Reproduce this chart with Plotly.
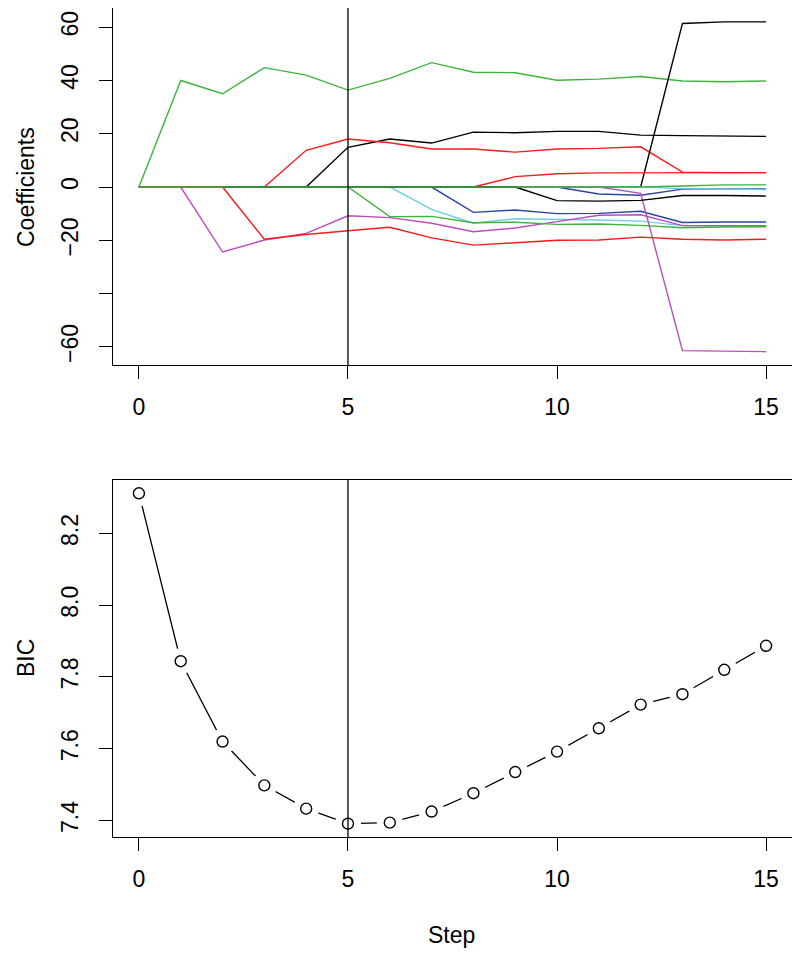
import plotly.graph_objects as go

steps = list(range(16))

# Coefficient paths (one list per variable, values at steps 0..15)
coef_black1 = [0, 0, 0, 0, 0, 14.9, 18.0, 16.5, 20.6, 20.4, 20.9, 20.9, 19.5, 19.3, 19.1, 19.0]
coef_red1 = [0, 0, 0, 0, 13.8, 18.0, 16.6, 14.3, 14.3, 13.1, 14.3, 14.5, 15.1, 5.6, 5.4, 5.4]
coef_green1 = [0, 40.0, 35.0, 44.8, 42.0, 36.4, 40.8, 46.7, 43.1, 42.9, 40.1, 40.5, 41.5, 39.8, 39.5, 39.8]
coef_blue1 = [0, 0, 0, 0, 0, 0, 0, 0, -9.5, -8.6, -10.0, -9.9, -9.1, -13.3, -13.1, -13.1]
coef_cyan1 = [0, 0, 0, 0, 0, 0, 0, -8.4, -13.6, -11.9, -12.1, -12.4, -12.8, -14.5, -14.6, -14.6]
coef_magenta1 = [0, 0, -24.4, -19.9, -17.4, -10.8, -11.5, -13.6, -16.8, -15.4, -13.0, -10.6, -10.4, -14.5, -14.5, -14.5]
coef_black2 = [0, 0, 0, 0, 0, 0, 0, 0, 0, 0, 0, 0, 0, 61.4, 62.0, 62.0]
coef_red2 = [0, 0, 0, 0, 0, 0, 0, 0, 0, 3.9, 5.0, 5.3, 5.3, 5.4, 5.4, 5.4]
coef_green2 = [0, 0, 0, 0, 0, 0, -11.1, -11.0, -13.4, -13.2, -14.0, -13.9, -14.4, -15.3, -15.0, -14.9]
coef_blue2 = [0, 0, 0, 0, 0, 0, 0, 0, 0, 0, 0, -2.6, -3.1, -0.8, -0.7, -0.7]
coef_cyan2 = [0, 0, 0, 0, 0, 0, 0, 0, 0, 0, 0, 0, 0, -0.6, -0.9, -1.0]
coef_magenta2 = [0, 0, 0, 0, 0, 0, 0, 0, 0, 0, 0, 0, -2.4, -61.4, -61.6, -61.8]
coef_black3 = [0, 0, 0, 0, 0, 0, 0, 0, 0, 0, -5.1, -5.3, -5.0, -3.2, -3.2, -3.4]
coef_red3 = [0, 0, 0, -19.6, -17.8, -16.4, -15.1, -19.1, -21.8, -20.9, -20.0, -19.9, -18.8, -19.6, -19.9, -19.6]
coef_green3 = [0, 0, 0, 0, 0, 0, 0, 0, 0, 0, 0, 0, 0, 0.4, 0.8, 0.8]

bic = [8.312, 7.844, 7.620, 7.498, 7.433, 7.391, 7.394, 7.425, 7.476, 7.535,
       7.592, 7.657, 7.723, 7.752, 7.820, 7.887]

chosen_step = 5

coef_ticks = [-60, -40, -20, 0, 20, 40, 60]
coef_ticktext = ["\u221260", "", "\u221220", "0", "20", "40", "60"]
bic_ticks = [7.4, 7.6, 7.8, 8.0, 8.2]
bic_ticktext = ["7.4", "7.6", "7.8", "8.0", "8.2"]
x_ticks = [0, 5, 10, 15]

BLACK = "#000000"
RED = "#FF1A1A"
GREEN = "#3DB53D"
BLUE = "#2A44A8"
CYAN = "#6CCFE8"
MAGENTA = "#BB4DBB"

series = [
    (coef_black1, BLACK), (coef_red1, RED), (coef_green1, GREEN),
    (coef_blue1, BLUE), (coef_cyan1, CYAN), (coef_magenta1, MAGENTA),
    (coef_black2, BLACK), (coef_red2, RED), (coef_green2, GREEN),
    (coef_blue2, BLUE), (coef_cyan2, CYAN), (coef_magenta2, MAGENTA),
    (coef_black3, BLACK), (coef_red3, RED), (coef_green3, GREEN),
]

# page has an 8px body margin; figure is sized so screen coords match
OFF = 8
W, H = 800 - OFF, 953 - OFF
FONT = "Liberation Sans, Arial, Helvetica, sans-serif"
FS = 23


def px(xs):
    return (xs - OFF) / W


def py(ys):
    return 1 - (ys - OFF) / H


fig = go.Figure()

for vals, col in series:
    fig.add_trace(go.Scatter(x=steps, y=vals, mode="lines",
                             line=dict(color=col, width=1.4),
                             xaxis="x", yaxis="y", showlegend=False,
                             hoverinfo="skip"))

# BIC: line, white masks for gaps, then open circles (R type="b")
fig.add_trace(go.Scatter(x=steps, y=bic, mode="lines",
                         line=dict(color="black", width=1.3),
                         xaxis="x2", yaxis="y2", showlegend=False))
fig.add_trace(go.Scatter(x=steps, y=bic, mode="markers",
                         marker=dict(symbol="circle", size=26, color="white",
                                     line=dict(width=0)),
                         xaxis="x2", yaxis="y2", showlegend=False))
fig.add_trace(go.Scatter(x=steps, y=bic, mode="markers",
                         marker=dict(symbol="circle-open", size=11, color="black",
                                     line=dict(width=1.4, color="black")),
                         xaxis="x2", yaxis="y2", showlegend=False))

xdom = [px(113), px(792)]
top_dom = [py(365), py(8)]
bot_dom = [py(837), py(480)]

axis_common = dict(showline=True, linecolor="black", linewidth=1.3, mirror=True,
                   ticks="outside", ticklen=13, tickwidth=1.3, tickcolor="black",
                   showgrid=False, zeroline=False,
                   tickfont=dict(family=FONT, size=FS, color="black"))

fig.update_layout(
    width=W, height=H,
    margin=dict(l=0, r=0, t=0, b=0),
    paper_bgcolor="white", plot_bgcolor="white",
    showlegend=False,
    xaxis=dict(domain=xdom, anchor="y", range=[-0.62, 15.62],
               tickvals=x_ticks, ticklabelstandoff=8, **axis_common),
    yaxis=dict(domain=top_dom, anchor="x", range=[-66.8, 67.2],
               tickvals=coef_ticks, ticktext=coef_ticktext, tickangle=-90,
               ticklabelstandoff=12, **axis_common),
    xaxis2=dict(domain=xdom, anchor="y2", range=[-0.62, 15.62],
                tickvals=x_ticks, ticklabelstandoff=8, **axis_common),
    yaxis2=dict(domain=bot_dom, anchor="x2", range=[7.354, 8.349],
                tickvals=bic_ticks, ticktext=bic_ticktext, tickangle=-90,
                ticklabelstandoff=12, **axis_common),
    shapes=[
        dict(type="line", xref="x", yref="y domain", x0=chosen_step, x1=chosen_step,
             y0=0, y1=1, line=dict(color="black", width=1.3), layer="above"),
        dict(type="line", xref="x2", yref="y2 domain", x0=chosen_step, x1=chosen_step,
             y0=0, y1=1, line=dict(color="black", width=1.3), layer="above"),
    ],
    annotations=[
        dict(text="Coefficients", xref="paper", yref="paper", x=px(26), y=py(187),
             textangle=-90, showarrow=False, xanchor="center", yanchor="middle",
             font=dict(family=FONT, size=FS, color="black")),
        dict(text="BIC", xref="paper", yref="paper", x=px(26), y=py(658),
             textangle=-90, showarrow=False, xanchor="center", yanchor="middle",
             font=dict(family=FONT, size=FS, color="black")),
        dict(text="Step", xref="paper", yref="paper", x=px(452), y=py(935),
             showarrow=False, xanchor="center", yanchor="middle",
             font=dict(family=FONT, size=FS, color="black")),
    ],
)

fig.write_html("out.html")
